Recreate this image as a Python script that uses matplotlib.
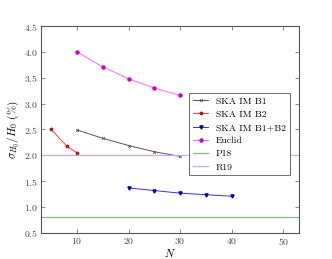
import numpy as np
import matplotlib
matplotlib.use('Agg')
import matplotlib.pyplot as plt

plt.rcParams['font.family'] = 'serif'
plt.rcParams['font.serif'] = ['cmr10', 'DejaVu Serif']
plt.rcParams['mathtext.fontset'] = 'cm'
plt.rcParams['axes.formatter.use_mathtext'] = True

# values
n_b1 = [10, 15, 20, 25, 30]
b1 = [2.49, 2.33, 2.19, 2.07, 1.98]
n_b2 = [5, 8, 10]
b2 = [2.5, 2.18, 2.05]
n_b12 = [20, 25, 30, 35, 40]
b12 = [1.37, 1.32, 1.27, 1.24, 1.21]
n_euclid = [10, 15, 20, 25, 30]
euclid = [4.0, 3.71, 3.48, 3.30, 3.16]
p18 = 0.80
r19 = 2.0

fig = plt.figure(figsize=(3.32, 2.59), dpi=100)
ax = fig.add_axes([0.1235, 0.1004, 0.7762, 0.7992])

ax.plot(n_b1, b1, color='#555555', lw=0.7, marker='x', ms=2, mew=0.6, label='SKA IM B1')
ax.plot(n_b2, b2, color='#ff4040', lw=0.7, marker='*', ms=2.5, mec='#aa2020', mfc='#aa2020', label='SKA IM B2')
ax.plot(n_b12, b12, color='#3030ff', lw=0.7, marker='v', ms=2.3, mec='#0000aa', mfc='#0000aa', label='SKA IM B1+B2')
ax.plot(n_euclid, euclid, color='#ff66ff', lw=0.7, marker='o', ms=2.2, mec='#cc00cc', mfc='#cc00cc', label='Euclid')
ax.axhline(p18, color='#80c080', lw=0.9, label='P18')
ax.axhline(r19, color='#c8a8ff', lw=0.9, label='R19')

ax.set_xlim(3, 53)
ax.set_ylim(0.5, 4.5)
ax.set_xticks([10, 20, 30, 40, 50])
ax.set_yticks(np.arange(0.5, 4.51, 0.5))
ax.tick_params(direction='in', top=True, right=True, labelsize=7, length=3, width=0.5, pad=2,
               colors='#555555', labelcolor='#444444')
for s in ax.spines.values():
    s.set_color('#555555')
    s.set_linewidth(0.8)

ax.set_xlabel(r'$N$', fontsize=8, labelpad=0)
ax.set_ylabel(r'$\sigma_{H_0}/H_0$ (%)', fontsize=8, labelpad=2)

leg = ax.legend(loc='upper right', bbox_to_anchor=(0.985, 0.70), fontsize=7, fancybox=False,
                edgecolor='#555555', handlelength=1.6, labelspacing=0.45, borderpad=0.4,
                handletextpad=0.8, framealpha=1)
leg.get_frame().set_linewidth(0.6)

plt.savefig('out.png', dpi=100)
